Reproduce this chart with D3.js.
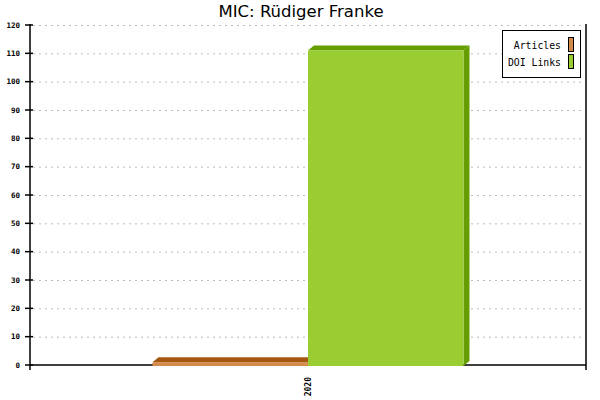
<!DOCTYPE html>
<html><head><meta charset="utf-8">
<script src="https://cdn.jsdelivr.net/npm/d3@7"></script>
<style>body{margin:0;background:#fff}svg{display:block}</style>
</head><body>
<svg id="c" width="600" height="400"></svg>
<script>
const title = "MIC: Rüdiger Franke";
const categories = ["2020"];
const seriesNames = ["Articles", "DOI Links"];
const articles = [1];
const doiLinks = [111];
const yTicks = [0,10,20,30,40,50,60,70,80,90,100,110,120];

const front = ["#d38b4b", "#9acd32"];
const dark = ["#a35711", "#669e00"];

const svg = d3.select("#c");
const L = 30, R = 586, T = 25, B = 365;
const dx = 6, dy = 5;

const y = d3.scaleLinear().domain([0,120]).range([B, T]);
const x0 = d3.scaleBand().domain(categories).range([L, R]).paddingInner(0).paddingOuter(0.394);
const x1 = d3.scaleBand().domain(seriesNames).range([0, x0.bandwidth()]);

// title
svg.append("text").attr("x", 301).attr("y", 17).attr("text-anchor","middle")
  .attr("font-family","DejaVu Sans").attr("font-size", 16.5).attr("fill","#000").text(title);

// grid
svg.append("g").selectAll("line").data(yTicks.filter(d=>d>0)).join("line")
  .attr("x1", L+3).attr("x2", R-2).attr("y1", d=>y(d)+0.5).attr("y2", d=>y(d)+0.5)
  .attr("stroke","#bbb").attr("stroke-dasharray","2,4");

// axes
const ax = svg.append("g").attr("stroke","#000").attr("stroke-width",1.5);
ax.append("line").attr("x1", L).attr("x2", L).attr("y1", T-1).attr("y2", B+5);
ax.append("line").attr("x1", R).attr("x2", R).attr("y1", T-1).attr("y2", B+5);
ax.append("line").attr("x1", L).attr("x2", R).attr("y1", B).attr("y2", B);
ax.selectAll(".yt").data(yTicks).join("line").attr("class","yt")
  .attr("x1", L-5).attr("x2", L+3).attr("y1", d=>y(d)).attr("y2", d=>y(d));

// bars (drawn over the axis line)
const data = [articles, doiLinks];
categories.forEach((c, ci) => {
  seriesNames.forEach((s, si) => {
    const v = data[si][ci];
    const xa = x0(c) + x1(s), xb = xa + x1.bandwidth();
    const ya = y(v), yb = y(0) + 1;
    const g = svg.append("g");
    g.append("polygon").attr("points", [[xb,ya],[xb+dx,ya-dy],[xb+dx,yb-dy],[xb,yb]].join(" ")).attr("fill", dark[si]);
    g.append("polygon").attr("points", [[xa,ya],[xa+dx,ya-dy],[xb+dx,ya-dy],[xb,ya]].join(" ")).attr("fill", dark[si]);
    g.append("rect").attr("x", xa).attr("y", ya).attr("width", xb-xa).attr("height", yb-ya).attr("fill", front[si]);
  });
});

svg.append("g").selectAll("text").data(yTicks).join("text")
  .attr("x", 20).attr("y", d=>y(d)+2.5).attr("text-anchor","end")
  .attr("font-family","DejaVu Sans Mono").attr("font-size", 7.5).attr("font-weight","bold").text(d=>d);

// x labels
svg.append("g").selectAll("text").data(categories).join("text")
  .attr("transform", d=>`translate(${x0(d)+x0.bandwidth()/2+3},${377}) rotate(-90)`)
  .attr("text-anchor","end").attr("font-family","DejaVu Sans Mono").attr("font-size", 8).attr("font-weight","bold").text(d=>d);

// legend
const lg = svg.append("g");
lg.append("rect").attr("x", 502.5).attr("y", 30.5).attr("width", 78).attr("height", 47).attr("fill","#fff").attr("stroke","#000");
seriesNames.forEach((s,i)=>{
  lg.append("text").attr("x", 561).attr("y", 49+i*17).attr("text-anchor","end")
    .attr("font-family","DejaVu Sans Mono").attr("font-size", 9.8).text(s);
  lg.append("rect").attr("x", 568.5).attr("y", 37.5+i*17).attr("width", 5).attr("height", 14)
    .attr("fill", front[i]).attr("stroke","#000");
});
</script>
</body></html>
